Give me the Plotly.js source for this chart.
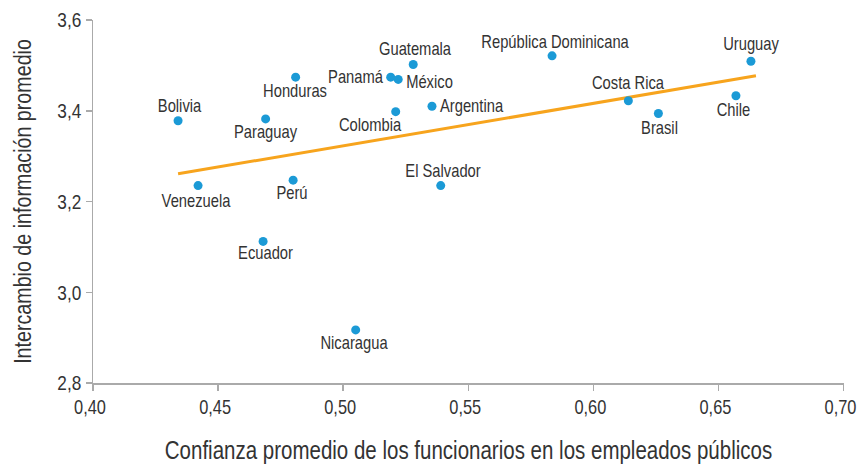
<!DOCTYPE html>
<html>
<head>
<meta charset="utf-8">
<script src="https://cdn.plot.ly/plotly-3.0.1.min.js"></script>
<style>html,body{margin:0;padding:0;background:#fff;}#chart{width:859px;height:464px;}</style>
</head>
<body>
<div id="chart"></div>
<script>
const countries = ["Bolivia","Venezuela","Paraguay","Honduras","Perú","Ecuador","Nicaragua","Panamá","México","Guatemala","Colombia","Argentina","El Salvador","República Dominicana","Costa Rica","Brasil","Chile","Uruguay"];
const confianza = [0.434,0.442,0.469,0.481,0.480,0.468,0.505,0.519,0.522,0.528,0.521,0.5355,0.539,0.5835,0.614,0.626,0.657,0.663];
const intercambio = [3.378,3.235,3.382,3.474,3.247,3.112,2.917,3.474,3.469,3.502,3.398,3.410,3.235,3.521,3.422,3.394,3.433,3.509];
const trendX = [0.434, 0.665];
const trendY = [3.261, 3.477];
const xTickVals = [0.40,0.45,0.50,0.55,0.60,0.65,0.70];
const yTickVals = [2.8,3.0,3.2,3.4,3.6];

// label offsets in pixels [dx, dy(down positive)]
const labelOffsets = [[2,-15],[-2,15],[0,13],[-1,14],[-1,13],[2,12],[-1,13],[-35,0],[31,3],[2,-15],[-25,13],[40,0],[2,-15],[3,-14],[0,-18],[1,15],[-2,14],[0,-17]];

const FONT = '"Liberation Sans",Arial,sans-serif';
const TXT = '#333333';

const annotations = countries.map((c,i)=>({
  x: confianza[i], y: intercambio[i], xref:'x', yref:'y', text:c, showarrow:false,
  xshift: labelOffsets[i][0], yshift: -labelOffsets[i][1],
  font:{family:FONT,size:18,color:TXT}
}));

const traces = [
  {x: trendX, y: trendY, mode:'lines', type:'scatter', line:{color:'#f7a41d', width:3}, hoverinfo:'skip'},
  {x: confianza, y: intercambio, mode:'markers', type:'scatter', marker:{color:'#1b9ad6', size:9}, text: countries}
];

const layout = {
  width:859, height:464,
  margin:{l:93, r:15, t:20, b:81},
  paper_bgcolor:'#fff', plot_bgcolor:'#fff',
  showlegend:false,
  separators:',.',
  font:{family:FONT, color:TXT, size:18},
  xaxis:{
    range:[0.40,0.7002], tickvals:xTickVals, tickformat:'.2f', automargin:false,
    ticklabeloverflow:'allow',
    showgrid:false, zeroline:false, showline:true, linecolor:'#aaaaaa', linewidth:1.5,
    ticks:'outside', ticklen:6, tickcolor:'#aaaaaa', tickwidth:1.5,
    tickfont:{family:FONT,size:20,color:TXT},
    title:{text:'Confianza promedio de los funcionarios en los empleados públicos', font:{family:FONT,size:25,color:TXT}, standoff:27}
  },
  yaxis:{
    range:[2.8,3.6], tickvals:yTickVals, tickformat:'.1f', automargin:false,
    showgrid:false, zeroline:false, showline:true, linecolor:'#aaaaaa', linewidth:1.5,
    ticks:'outside', ticklen:6, tickcolor:'#aaaaaa', tickwidth:1.5,
    tickfont:{family:FONT,size:21,color:TXT},
    title:{text:'Intercambio de información promedio', font:{family:FONT,size:24,color:TXT}, standoff:13}
  },
  annotations: annotations
};

Plotly.newPlot('chart', traces, layout, {displayModeBar:false, staticPlot:true}).then(()=>{
  document.querySelectorAll('#chart svg text').forEach(el=>{
    const isXTick = !!el.closest('.xtick');
    const ax = parseFloat(el.getAttribute('x')) || 0;
    const cx = isXTick ? ax - 3 : ax;   // x tick labels sit ~3px left of their ticks
    const t = el.getAttribute('transform') || '';
    el.setAttribute('transform', t + ' translate(' + cx + ',0) scale(0.82,1) translate(' + (-ax) + ',0)');
  });
});
</script>
</body>
</html>
